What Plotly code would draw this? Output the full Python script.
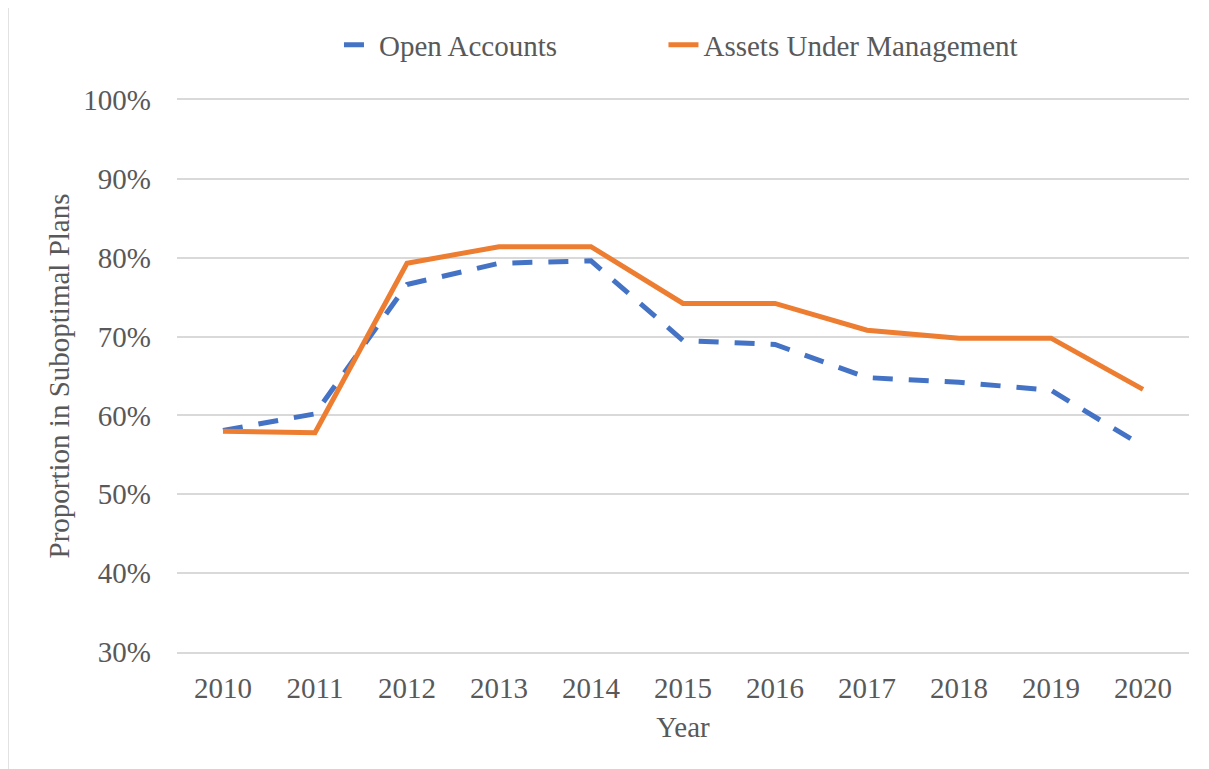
import plotly.graph_objects as go

years = ["2010", "2011", "2012", "2013", "2014", "2015", "2016", "2017", "2018", "2019", "2020"]
open_accounts = [0.581, 0.602, 0.766, 0.793, 0.796, 0.695, 0.690, 0.648, 0.642, 0.632, 0.561]
assets_under_mgmt = [0.580, 0.578, 0.793, 0.814, 0.814, 0.742, 0.742, 0.708, 0.698, 0.698, 0.633]
series_names = ["Open Accounts", "Assets Under Management"]

FONT = "Liberation Serif, Times New Roman, serif"
GRAY = "#595959"
FS = 29
PAD = "\u00a0" * 14

fig = go.Figure()
fig.add_trace(go.Scatter(
    x=years, y=open_accounts, mode="lines", name=series_names[0] + PAD,
    line=dict(color="#4472C4", width=5, dash="20px,16px"),
))
fig.add_trace(go.Scatter(
    x=years, y=assets_under_mgmt, mode="lines", name=series_names[1],
    line=dict(color="#ED7D31", width=5),
))

OFF = 8  # page offset
W, H = 1209, 769
pw, ph = 1012, 552
L, T = 177 - OFF, 100 - OFF
R, B = W - L - pw, H - T - ph

fig.add_shape(
    type="rect", xref="paper", yref="paper",
    x0=(8 - 177) / pw, x1=(1260 - 177) / pw,
    y0=-(840 - 652) / ph, y1=1 + (100 - 5.5) / ph,
    line=dict(color="#D9D9D9", width=1.5), fillcolor="rgba(0,0,0,0)", layer="below",
)

fig.update_layout(
    width=W, height=H,
    margin=dict(l=L, r=R, t=T, b=B, autoexpand=False),
    paper_bgcolor="white", plot_bgcolor="white",
    font=dict(family=FONT, size=FS, color=GRAY),
    showlegend=True,
    legend=dict(
        orientation="h", x=0.498, xanchor="center", y=1 + (100 - 45) / ph, yanchor="middle",
        font=dict(family=FONT, size=FS, color=GRAY),
        bgcolor="rgba(0,0,0,0)",
    ),
    xaxis=dict(
        type="category", range=[-0.5, 10.5], showgrid=False, zeroline=False,
        showline=True, mirror=True, linecolor="#D9D9D9", linewidth=1.5,
        ticks="", tickfont=dict(family=FONT, size=FS, color=GRAY),
        ticklabelstandoff=9,
        title=dict(text="Year", font=dict(family=FONT, size=FS, color=GRAY), standoff=14),
        automargin=False,
    ),
    yaxis=dict(
        range=[0.3, 1.0], dtick=0.1, tickformat=".0%",
        showgrid=True, gridcolor="#D9D9D9", gridwidth=1.5,
        showline=False, zeroline=False, ticks="",
        tickfont=dict(family=FONT, size=FS, color=GRAY),
        ticklabelstandoff=25,
        title=dict(text="Proportion in Suboptimal Plans", font=dict(family=FONT, size=FS, color=GRAY), standoff=5),
        automargin=False,
    ),
)

fig.write_html("out.html")
